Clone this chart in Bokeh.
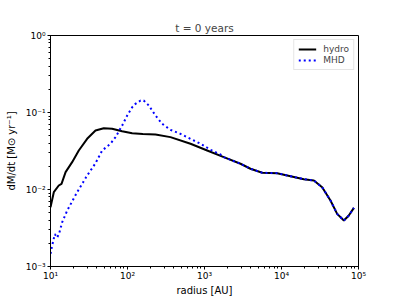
from bokeh.plotting import figure
from bokeh.models import CustomJSTickFormatter, Legend, LegendItem
from bokeh.embed import file_html
from bokeh.resources import INLINE

# radius [AU] and accretion rate [Msun/yr]
hydro_r = [10, 11.04, 12.8, 13.9, 15.7, 19.1, 23.3, 29.9, 38.4, 49.2, 63.1, 85.1,
           115, 158, 231, 361, 658, 1084, 1778, 2938, 3954, 5623, 8790, 13090,
           19500, 26300, 33730, 43250, 52840, 64570, 74820, 87100]
hydro_mdot = [0.00589, 0.00923, 0.01127, 0.01186, 0.0168, 0.02265, 0.0321, 0.0455,
              0.0583, 0.0625, 0.0614, 0.0571, 0.0538, 0.0525, 0.0518, 0.0479,
              0.0393, 0.0321, 0.0263, 0.0216, 0.0186, 0.0165, 0.0163, 0.0149,
              0.0136, 0.0131, 0.0107, 0.0072, 0.00483, 0.00395, 0.00459, 0.00578]

mhd_r = [10, 10.52, 11.38, 12.22, 13.03, 14.19, 16.48, 22.18, 29.92, 38.37, 46.88,
         60.12, 69.82, 85.31, 99.08, 115.1, 127.1, 147.9, 162.2, 189.2, 231.2,
         281.8, 361.4, 487.5, 657.7, 887.2, 1197, 1614, 1778, 2938, 3954, 5623,
         8790, 13090, 19500, 26300, 33730, 43250, 52840, 64570, 74820, 87100]
mhd_mdot = [0.001462, 0.001875, 0.00263, 0.00237, 0.00275, 0.00376, 0.00533,
            0.00923, 0.0152, 0.0219, 0.0321, 0.0393, 0.0479, 0.0678, 0.0914,
            0.1172, 0.1297, 0.1432, 0.1432, 0.1233, 0.0914, 0.0713, 0.0596,
            0.0528, 0.0455, 0.0393, 0.0328, 0.0285, 0.0263, 0.0216, 0.0186,
            0.0165, 0.0163, 0.0149, 0.0136, 0.0131, 0.0107, 0.0072, 0.00483,
            0.00395, 0.00459, 0.00578]

x_limits = (10, 1e5)
y_limits = (1e-3, 1)
title_text = "t = 0 years"
x_label = "radius [AU]"
y_label = "dM/dt [M\u2299 yr\u207b\u00b9]"

FONT = "DejaVu Sans"

p = figure(width=399, height=299, x_axis_type="log", y_axis_type="log",
           x_range=x_limits, y_range=y_limits, output_backend="svg",
           toolbar_location=None, title=title_text,
           min_border_left=50, min_border_right=41, min_border_top=35,
           min_border_bottom=33)

p.title.align = "center"
p.title.text_font = FONT
p.title.text_font_size = "10.5px"
p.title.text_font_style = "normal"
p.title.standoff = 3
p.title.offset = 0

p.xgrid.visible = False
p.ygrid.visible = False
p.outline_line_color = "black"
p.outline_line_width = 1
p.background_fill_color = "white"
p.border_fill_color = "white"

fmt = CustomJSTickFormatter(code="""
const sup = {'-':'\u207b','0':'\u2070','1':'\u00b9','2':'\u00b2','3':'\u00b3','4':'\u2074','5':'\u2075','6':'\u2076','7':'\u2077','8':'\u2078','9':'\u2079'};
const e = Math.round(Math.log10(tick));
return '10' + String(e).split('').map(c => sup[c]).join('');
""")

for ax in (p.xaxis[0], p.yaxis[0]):
    ax.formatter = fmt
    ax.major_label_text_font = FONT
    ax.major_label_text_font_size = "9px"
    ax.major_label_text_color = "black"
    ax.axis_label_text_font = FONT
    ax.axis_label_text_font_size = "10px"
    ax.axis_label_text_font_style = "normal"
    ax.axis_label_text_color = "black"
    ax.major_tick_out = 3
    ax.major_tick_in = 0
    ax.minor_tick_out = 2
    ax.minor_tick_in = 0
    ax.axis_line_color = "black"
    ax.major_tick_line_color = "black"
    ax.minor_tick_line_color = "black"

p.xaxis.major_label_standoff = 1
p.xaxis.axis_label_standoff = 1
p.yaxis.major_label_standoff = 2
p.yaxis.axis_label_standoff = 6

p.xaxis.axis_label = x_label
p.yaxis.axis_label = y_label

r1 = p.line(hydro_r, hydro_mdot, line_color="black", line_width=2)
r2 = p.line(mhd_r, mhd_mdot, line_color="#0000ff", line_width=2,
            line_dash="2 3")

legend = Legend(items=[LegendItem(label="hydro", renderers=[r1]),
                       LegendItem(label="MHD", renderers=[r2])],
                location="top_right", margin=4, padding=4, spacing=1,
                label_text_font=FONT, label_text_font_size="9px",
                label_height=10, glyph_height=10, glyph_width=18,
                label_standoff=7, border_line_color="#cccccc",
                border_line_width=1, background_fill_alpha=0.8)
p.add_layout(legend, "center")

open("out.html", "w").write(file_html(p, INLINE))
